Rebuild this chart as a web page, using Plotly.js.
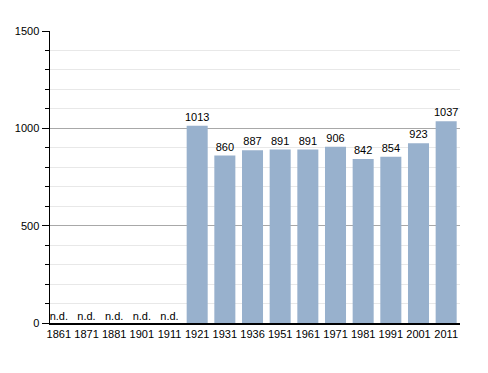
<!DOCTYPE html>
<html><head><meta charset="utf-8">
<script src="https://cdn.plot.ly/plotly-3.0.1.min.js"></script>
<style>body{margin:0;background:#fff}#c{width:488px;height:373px}</style>
</head><body><div id="c"></div>
<script>
const years = ["1861","1871","1881","1901","1911","1921","1931","1936","1951","1961","1971","1981","1991","2001","2011"];
const population = [null,null,null,null,null,1013,860,887,891,891,906,842,854,923,1037];
const missingLabel = "n.d.";

const barText = population.map(v => v === null ? "" : String(v));
const ndYears = years.filter((y,i) => population[i] === null);
const ndZero = ndYears.map(() => 0);

const font = {family: "Liberation Sans, Arial, sans-serif", size: 11, color: "#000000"};

Plotly.newPlot("c", [
  {type: "bar", x: years, y: population.map(v => v === null ? 0 : v),
   marker: {color: "#98b1cd"}, text: barText, textposition: "outside",
   constraintext: "none", textfont: font, outsidetextfont: font,
   cliponaxis: false, hoverinfo: "none"},
  {type: "scatter", mode: "text", x: ndYears, y: ndZero,
   text: ndYears.map(() => missingLabel), textposition: "top center",
   textfont: font, cliponaxis: false, hoverinfo: "none"}
], {
  width: 488, height: 373, showlegend: false,
  margin: {l: 50, r: 28, t: 31, b: 50},
  paper_bgcolor: "#fff", plot_bgcolor: "#fff",
  bargap: 0.24, font: font,
  xaxis: {type: "category", range: [-0.32, 14.5], color: "#000", showline: true, linecolor: "#000", linewidth: 1.5,
    ticks: "", showgrid: false, tickfont: font, fixedrange: true},
  yaxis: {range: [0, 1500], dtick: 500, color: "#000", showline: true, linecolor: "#000", linewidth: 1.5,
    ticks: "outside", ticklen: 7, tickcolor: "#000", showgrid: true, gridcolor: "#a8a8a8",
    zeroline: false, tickfont: font, fixedrange: true,
    minor: {dtick: 100, showgrid: true, gridcolor: "#e8e8e8", ticks: "outside", ticklen: 4, tickcolor: "#000"}}
}, {staticPlot: true});
</script></body></html>
